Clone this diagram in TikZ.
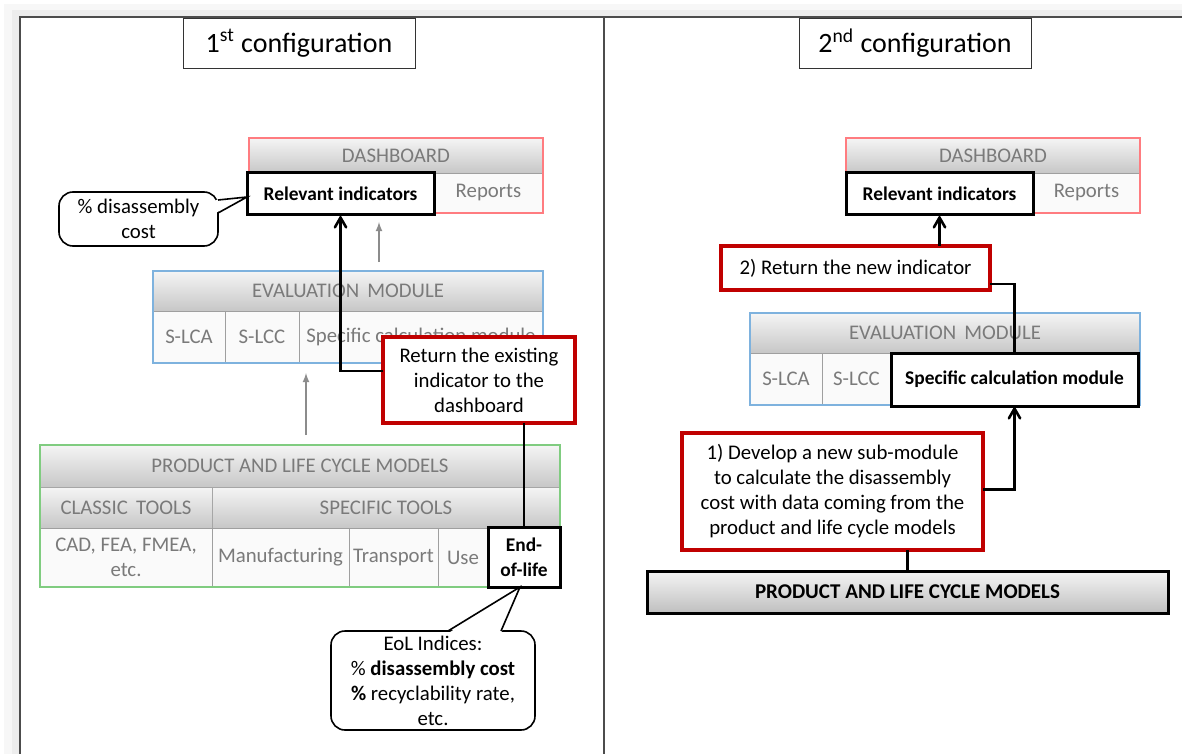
\documentclass[tikz,border=0pt]{standalone}
\usepackage{fontspec}
\setmainfont{Carlito}
\usetikzlibrary{arrows}
\definecolor{dashred}{HTML}{FF7C80}
\definecolor{evalblue}{HTML}{7EB2DE}
\definecolor{plmgreen}{HTML}{80CC80}
\definecolor{taskred}{HTML}{C00000}
\tikzset{sz/.style 2 args={minimum width=#1*0.5pt,minimum height=#2*0.5pt}}

\begin{document}
\begin{tikzpicture}[x=0.5pt,y=-0.5pt,>=angle 60]
  \tikzstyle{every node}=[font=\fontsize{10.4}{12.5}\selectfont,inner sep=0pt,outer sep=0pt,anchor=north west]
  \tikzstyle{conf}=[draw=black!80,fill=white,font=\fontsize{14}{16}\selectfont]
  \tikzstyle{hdr}=[draw=gray!70,top color=black!4,bottom color=black!22,text=black!52]
  \tikzstyle{cell}=[draw=gray!75,fill=black!2,text=black!52,align=center]
  \tikzstyle{sel}=[draw=black,line width=1.5pt,fill=white,align=center,font=\bfseries\fontsize{9.7}{12.5}\selectfont]
  \tikzstyle{task}=[draw=taskred,line width=1.8pt,fill=white,align=center]
  \tikzstyle{note}=[draw=black,thick,fill=white,rounded corners=7pt,align=center]
  \tikzstyle{blk}=[black,line width=1.3pt]
  \tikzstyle{garr}=[->,>=latex,black!45,semithick]

  \useasboundingbox (0,0) rectangle (1182,754);
  % page and frame
  \fill[black!3] (4,4) rectangle (1182,754);
  \fill[black!7] (12,10) rectangle (1182,754);
  \fill[white] (20,17) rectangle (1182,754);
  \draw[black!70,line width=0.8pt] (20,754) -- (20,17) -- (1182,17);
  \draw[black!70,line width=0.8pt] (604,17) -- (604,754);

  %%% 1st configuration
  \node[conf,sz={232}{50}] (t1) at (183,18) {1\textsuperscript{st} configuration};

  % dashboard
  \node[hdr,sz={294}{35}] (dash1) at (249,138) {DASHBOARD};
  \node[cell,sz={109}{40}] (rep1) at (434,173) {Reports};
  \draw[dashred,line width=1pt] (249,138) rectangle (543,213);
  \node[sel,sz={187}{42}] (ri1) at (247,173) {Relevant indicators};

  \node[note,sz={159}{54}] (co1) at (59,192) {\% disassembly\\cost};
  \fill[white] ([yshift=9.5pt,xshift=-1.2pt]co1.east) -- ([yshift=-1.5pt]ri1.west) -- ([yshift=3pt,xshift=-1.2pt]co1.east) -- cycle;
  \draw[thick] ([yshift=9.5pt]co1.east) -- ([yshift=-1.5pt]ri1.west) -- ([yshift=3pt]co1.east);

  % evaluation module
  \node[hdr,sz={390}{40}] (ev1) at (153,271) {EVALUATION\, MODULE};
  \node[cell,sz={72}{52}] (slca1) at (153,311) {S-LCA};
  \node[cell,sz={74}{52}] (slcc1) at (225,311) {S-LCC};
  \node[cell,sz={244}{52}] (spec1) at (299,311) {Specific calculation module};
  \draw[evalblue,line width=1pt] (153,271) rectangle (543,363);

  \coordinate (g1a) at (379,262);
  \coordinate (g1b) at (379,222);
  \draw[garr] (g1a) -- (g1b);
  \coordinate (g2a) at (306,435);
  \coordinate (g2b) at (306,373);
  \draw[garr] (g2a) -- (g2b);

  % product and life cycle models
  \node[hdr,sz={520}{42}] (plm1) at (40,445) {PRODUCT AND LIFE CYCLE MODELS};
  \node[hdr,sz={172}{41}] (cls1) at (40,487) {CLASSIC\, TOOLS};
  \node[hdr,sz={348}{41}] (spt1) at (212,487) {SPECIFIC TOOLS};
  \node[cell,sz={172}{59}] (cad1) at (40,528) {CAD, FEA, FMEA,\\etc.};
  \node[cell,sz={137}{59}] (man1) at (212,528) {Manufacturing};
  \node[cell,sz={89}{59}] (tra1) at (349,528) {Transport};
  \node[cell,sz={50}{59}] (use1) at (438,528) {Use};
  \draw[plmgreen,line width=1pt] (40,445) rectangle (560,587);
  \node[sel,sz={72}{60}] (eol1) at (488,527) {End-\\of-life};

  % existing indicator path
  \node[task,sz={192}{86}] (ret1) at (383,337) {Return the existing\\indicator to the\\dashboard};
  \draw[blk,->] ([yshift=4.5pt]ret1.west) -| (ri1.south);
  \draw[blk] (eol1.north) -- (eol1.north |- ret1.south);

  \node[note,sz={204}{99}] (co2) at (331,631) {EoL Indices:\\\% \textbf{disassembly cost}\\\textbf{\%} recyclability rate,\\etc.};
  \fill[white] ([xshift=-17pt,yshift=-1.2pt]co2.north east) -- ([xshift=-2pt]eol1.south) -- ([xshift=7.5pt,yshift=-1.2pt]co2.north) -- cycle;
  \draw[thick] ([xshift=-17pt]co2.north east) -- ([xshift=-2pt]eol1.south) -- ([xshift=7.5pt]co2.north);

  %%% 2nd configuration
  \node[conf,sz={232}{50}] (t2) at (799,18) {2\textsuperscript{nd} configuration};

  \node[hdr,sz={294}{35}] (dash2) at (846,138) {DASHBOARD};
  \node[cell,sz={107}{40}] (rep2) at (1033,173) {Reports};
  \draw[dashred,line width=1pt] (846,138) rectangle (1140,213);
  \node[sel,sz={187}{42}] (ri2) at (846,173) {Relevant indicators};

  \node[hdr,sz={390}{40}] (ev2) at (750,313) {EVALUATION\, MODULE};
  \node[cell,sz={72}{52}] (slca2) at (750,353) {S-LCA};
  \node[cell,sz={69}{52}] (slcc2) at (822,353) {S-LCC};
  \draw[evalblue,line width=1pt] (750,313) rectangle (1140,405);

  \node[task,sz={269}{44}] (ret2) at (721,246) {2) Return the new indicator};
  \draw[blk,->] (ri2.south |- ret2.north) -- (ri2.south);
  \node[sel,sz={247}{53}] (spec2) at (891,353) {Specific calculation module};
  \draw[blk] ([yshift=-8pt]ret2.east) -| (spec2.north);

  \node[task,sz={301}{117}] (dev2) at (682,433) {1) Develop a new sub-module\\to calculate the disassembly\\cost with data coming from the\\product and life cycle models};
  \draw[blk,->] ([yshift=1pt]dev2.east) -| (spec2.south);

  \node[draw=black,line width=1.5pt,top color=black!4,bottom color=black!25,sz={521}{42},font=\bfseries\fontsize{10.5}{12.5}\selectfont] (plm2) at (647,571) {PRODUCT AND LIFE CYCLE MODELS};
  \draw[blk] (plm2.north) -- (plm2.north |- dev2.south);
\end{tikzpicture}
\end{document}
